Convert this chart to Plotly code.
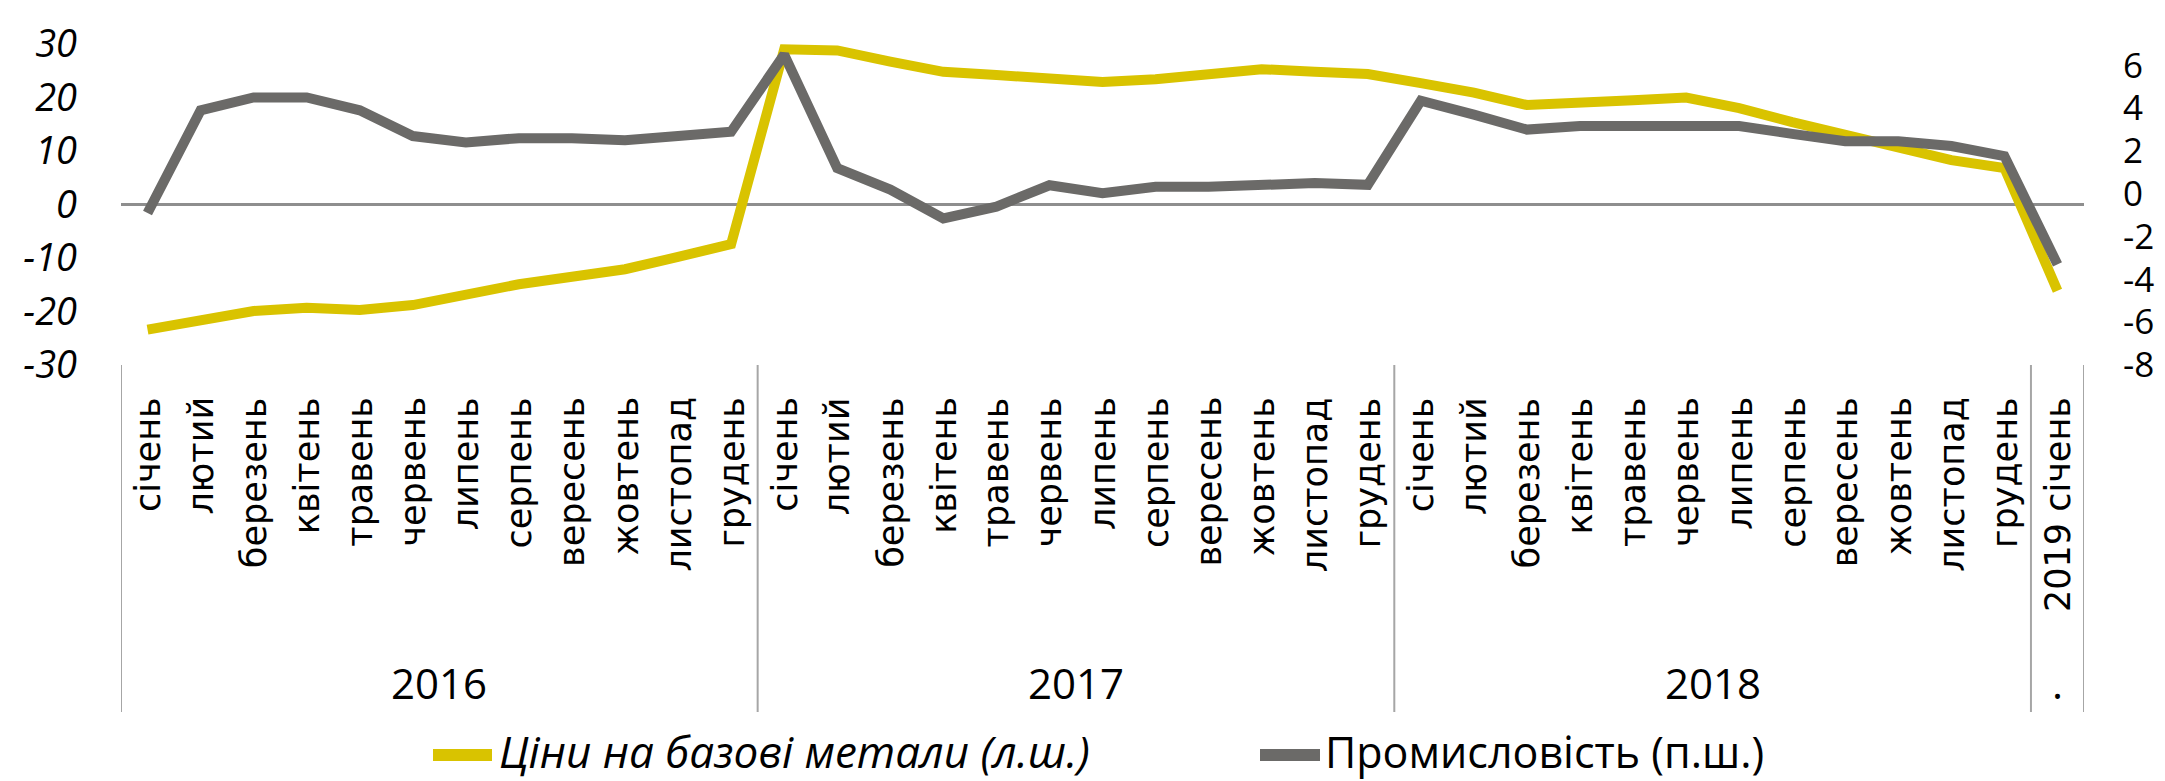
import plotly.graph_objects as go

# ---------------- data ----------------
months = ["січень", "лютий", "березень", "квітень", "травень", "червень",
          "липень", "серпень", "вересень", "жовтень", "листопад", "грудень"]
categories = months * 3 + ["2019 січень"]
years = ["2016", "2017", "2018", "."]
year_sizes = [12, 12, 12, 1]

metals = [-23.4, -21.7, -19.9, -19.3, -19.7, -18.8, -16.9, -14.9, -13.5, -12.1, -9.8, -7.4,
          29.0, 28.8, 26.7, 24.8, 24.2, 23.6, 22.9, 23.4, 24.4, 25.3, 24.8, 24.4,
          22.7, 20.9, 18.6, 18.9, 19.5, 20.0, 18.0, 15.4, 12.9, 10.5, 8.3, 6.8,
          -16.1]
industry = [-0.9, 3.9, 4.5, 4.5, 3.9, 2.7, 2.4, 2.6, 2.6, 2.5, 2.7, 2.9,
            6.5, 1.2, 0.2, -1.15, -0.6, 0.4, 0.03, 0.33, 0.33, 0.42, 0.5, 0.42,
            4.35, 3.7, 3.0, 3.17, 3.17, 3.1, 3.17, 2.8, 2.46, 2.46, 2.23, 1.76,
            -3.3]

name_metals = "Ціни на базові метали (л.ш.)"
name_industry = "Промисловість (п.ш.)"
left_ticks = [-30, -20, -10, 0, 10, 20, 30]
left_labels = ["-30", "-20", "-10", "0", "10", "20", "30"]
right_ticks = [-8, -6, -4, -2, 0, 2, 4, 6]
right_labels = ["-8", "-6", "-4", "-2", "0", "2", "4", "6"]

# ---------------- style ----------------
OFF = 8                      # page body margin of the browser
PAGE_W, PAGE_H = 2165, 781
W, H = PAGE_W - OFF, PAGE_H - OFF
# plot area in page pixels
PL, PR, PT, PB = 121, 2084, 44, 365
L, T = PL - OFF, PT - OFF
R, B = W - (PR - OFF), H - (PB - OFF)
PW, PH = PR - PL, PB - PT
YELLOW = "#D9C300"
GRAY = "#6B6A68"
FONT = "Open Sans"


def px(xp):
    return (xp - PL) / PW


def py(yp):
    return (PB - yp) / PH


x = list(range(len(categories)))

fig = go.Figure()
fig.add_trace(go.Scatter(x=x, y=metals, name=name_metals, mode="lines",
                         line=dict(color=YELLOW, width=10), yaxis="y",
                         showlegend=False))
fig.add_trace(go.Scatter(x=x, y=industry, name=name_industry, mode="lines",
                         line=dict(color=GRAY, width=10), yaxis="y2",
                         showlegend=False))

shapes = []
# zero line (left axis)
shapes.append(dict(type="line", xref="paper", yref="y", x0=0, x1=1, y0=0, y1=0,
                   line=dict(color="#8E8E8E", width=3), layer="below"))
# group separators
bounds = [-0.5]
for s in year_sizes:
    bounds.append(bounds[-1] + s)
for b in bounds:
    shapes.append(dict(type="line", xref="x", yref="paper", x0=b, x1=b,
                       y0=0, y1=py(712), line=dict(color="#A6A6A6", width=2)))

annotations = []
for i, c in enumerate(categories):
    annotations.append(dict(x=i, y=py(395), xref="x", yref="paper", text=c,
                            textangle=-90, showarrow=False, xanchor="center",
                            yanchor="top",
                            font=dict(family="DejaVu Sans", size=35, color="black")))
start = -0.5
for yname, s in zip(years, year_sizes):
    annotations.append(dict(x=start + s / 2, y=py(682), xref="x", yref="paper",
                            text=yname, showarrow=False, xanchor="center",
                            yanchor="middle",
                            font=dict(family=FONT, size=42, color="black")))
    start += s

# manual legend
legend_items = [(433, 492, 497, YELLOW, "<i>" + name_metals + "</i>", 44),
                (1260, 1320, 1323, GRAY, name_industry, 43)]
for x0, x1, xt, col, txt, fs in legend_items:
    shapes.append(dict(type="line", xref="paper", yref="paper", x0=px(x0), x1=px(x1),
                       y0=py(755), y1=py(755), line=dict(color=col, width=12)))
    annotations.append(dict(x=px(xt), y=py(751), xref="paper", yref="paper", text=txt,
                            showarrow=False, xanchor="left", yanchor="middle",
                            font=dict(family=FONT, size=fs, color="black")))

fig.update_layout(
    template="none",
    width=W, height=H, autosize=False,
    margin=dict(l=L, r=R, t=T, b=B, pad=0),
    paper_bgcolor="white", plot_bgcolor="white",
    xaxis=dict(range=[-0.5, len(categories) - 0.5], showticklabels=False,
               showgrid=False, zeroline=False, showline=False, ticks="",
               automargin=False),
    yaxis=dict(range=[-30, 30], tickvals=left_ticks, ticktext=left_labels,
               showgrid=False, zeroline=False, automargin=False,
               showline=False, ticks="", ticklabelstandoff=43,
               tickfont=dict(family=FONT, size=38, color="black", style="italic")),
    yaxis2=dict(range=[-8, 7], tickvals=right_ticks, ticktext=right_labels,
                overlaying="y", side="right", automargin=False,
                showgrid=False, zeroline=False, showline=False, ticks="",
                ticklabelstandoff=38,
                tickfont=dict(family=FONT, size=35, color="black")),
    shapes=shapes, annotations=annotations, showlegend=False,
)

fig.write_html("out.html")
